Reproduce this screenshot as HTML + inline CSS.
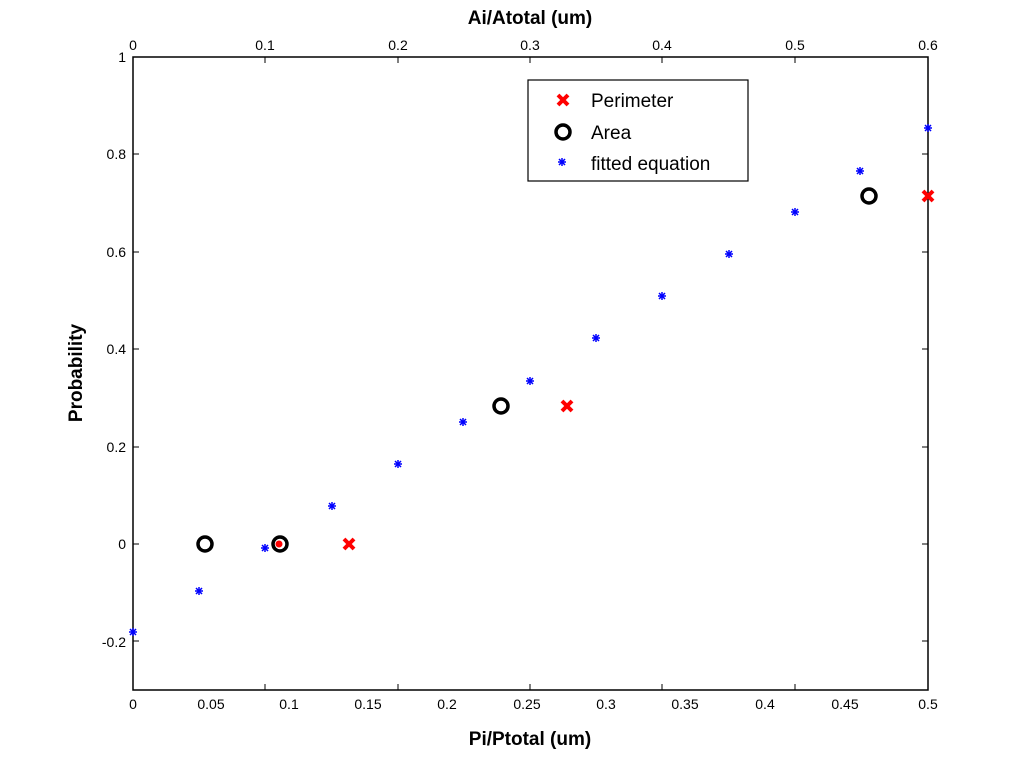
<!DOCTYPE html>
<html><head><style>body{margin:0;background:#fff}</style></head><body>
<svg width="1024" height="776" xmlns="http://www.w3.org/2000/svg" font-family="Liberation Sans, sans-serif">
<defs>
<g id="st" stroke="#00f" stroke-width="1.5"><line x1="-4" y1="0" x2="4" y2="0"/><line x1="0" y1="-4" x2="0" y2="4"/><line x1="-3" y1="-3" x2="3" y2="3"/><line x1="-3" y1="3" x2="3" y2="-3"/></g>
<g id="xx" stroke="#f00" stroke-width="4"><line x1="-5" y1="-5" x2="5" y2="5"/><line x1="-5" y1="5" x2="5" y2="-5"/></g>
</defs>
<rect x="133" y="57" width="795" height="633" fill="none" stroke="#000" stroke-width="1.5"/>
<g stroke="#000" stroke-width="1">
<line x1="133" y1="544" x2="139" y2="544"/><line x1="922" y1="544" x2="928" y2="544"/>
<line x1="133" y1="641" x2="139" y2="641"/><line x1="922" y1="641" x2="928" y2="641"/>
<line x1="133" y1="447" x2="139" y2="447"/><line x1="922" y1="447" x2="928" y2="447"/>
<line x1="133" y1="349" x2="139" y2="349"/><line x1="922" y1="349" x2="928" y2="349"/>
<line x1="133" y1="252" x2="139" y2="252"/><line x1="922" y1="252" x2="928" y2="252"/>
<line x1="133" y1="154" x2="139" y2="154"/><line x1="922" y1="154" x2="928" y2="154"/>
<line x1="265" y1="690" x2="265" y2="684"/><line x1="265" y1="57" x2="265" y2="63"/>
<line x1="398" y1="690" x2="398" y2="684"/><line x1="398" y1="57" x2="398" y2="63"/>
<line x1="530" y1="690" x2="530" y2="684"/><line x1="530" y1="57" x2="530" y2="63"/>
<line x1="662" y1="690" x2="662" y2="684"/><line x1="662" y1="57" x2="662" y2="63"/>
<line x1="795" y1="690" x2="795" y2="684"/><line x1="795" y1="57" x2="795" y2="63"/>
</g>
<g font-size="14" text-anchor="end">
<text x="126" y="62">1</text><text x="126" y="159">0.8</text><text x="126" y="257">0.6</text><text x="126" y="354">0.4</text><text x="126" y="452">0.2</text><text x="126" y="549">0</text><text x="126" y="647">-0.2</text>
</g>
<g font-size="14" text-anchor="middle">
<text x="133" y="709">0</text><text x="211" y="709">0.05</text><text x="289" y="709">0.1</text><text x="368" y="709">0.15</text><text x="447" y="709">0.2</text><text x="527" y="709">0.25</text><text x="606" y="709">0.3</text><text x="685" y="709">0.35</text><text x="765" y="709">0.4</text><text x="845" y="709">0.45</text><text x="928" y="709">0.5</text>
<text x="133" y="50">0</text><text x="265" y="50">0.1</text><text x="398" y="50">0.2</text><text x="530" y="50">0.3</text><text x="662" y="50">0.4</text><text x="795" y="50">0.5</text><text x="928" y="50">0.6</text>
</g>
<g font-size="19" font-weight="bold" text-anchor="middle">
<text x="530" y="745">Pi/Ptotal (um)</text>
<text x="530" y="24">Ai/Atotal (um)</text>
<text transform="translate(82,373) rotate(-90)">Probability</text>
</g>
<use href="#st" x="133" y="632"/><use href="#st" x="199" y="591"/><use href="#st" x="265" y="548"/><use href="#st" x="332" y="506"/><use href="#st" x="398" y="464"/><use href="#st" x="463" y="422"/><use href="#st" x="530" y="381"/><use href="#st" x="596" y="338"/><use href="#st" x="662" y="296"/><use href="#st" x="729" y="254"/><use href="#st" x="795" y="212"/><use href="#st" x="860" y="171"/><use href="#st" x="928" y="128"/>
<g fill="none" stroke="#000" stroke-width="3.5">
<circle cx="205" cy="544" r="7"/><circle cx="280" cy="544" r="7"/><circle cx="501" cy="406" r="7"/><circle cx="869" cy="196" r="7"/>
</g>
<circle cx="279" cy="544" r="3.5" fill="#f00"/>
<use href="#xx" x="349" y="544"/><use href="#xx" x="567" y="406"/><use href="#xx" x="928" y="196"/>
<rect x="528" y="80" width="220" height="101" fill="#fff" stroke="#000" stroke-width="1.2"/>
<use href="#xx" x="563" y="100"/>
<circle cx="563" cy="132" r="7" fill="none" stroke="#000" stroke-width="3.5"/>
<use href="#st" x="562" y="162"/>
<g font-size="19"><text x="591" y="107">Perimeter</text><text x="591" y="139">Area</text><text x="591" y="170">fitted equation</text></g>
</svg>
</body></html>
